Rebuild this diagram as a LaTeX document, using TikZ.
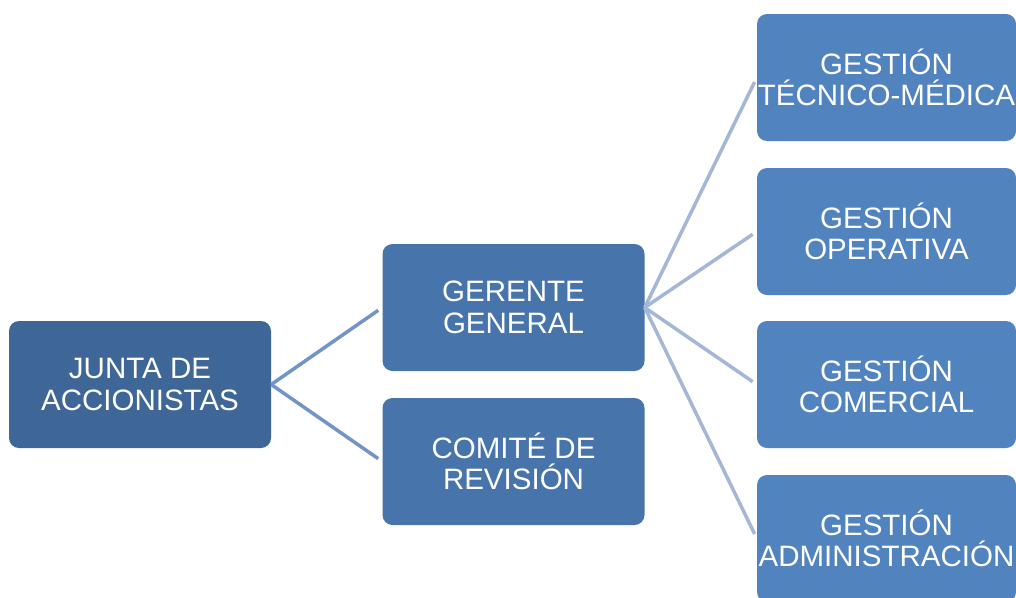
\documentclass[tikz,border=0pt]{standalone}
\usepackage{fontspec}
\setmainfont{Liberation Sans}
\definecolor{juntablue}{RGB}{62,102,150}
\definecolor{midblue}{RGB}{71,116,170}
\definecolor{gestblue}{RGB}{81,131,191}
\definecolor{linkone}{RGB}{114,148,198}
\definecolor{linktwo}{RGB}{165,183,215}
\tikzset{
  orgbox/.style={rectangle, rounded corners=10pt, inner sep=0pt, align=center,
    text=white, font=\fontsize{29.5}{31.5}\selectfont},
  link/.style={line width=3.5pt, shorten >=5pt}
}
\begin{document}
\begin{tikzpicture}[x=1pt, y=-1pt]
\useasboundingbox (0,0) rectangle (1016,597);
%first level

\node [orgbox, fill=juntablue, minimum width=262pt, minimum height=127pt] (junta) at (140,384.5) {JUNTA DE\\ACCIONISTAS};

%second level

\node [orgbox, fill=midblue, minimum width=262pt, minimum height=127pt] (gerente) at (513.5,307.5) {GERENTE\\GENERAL};
\node [orgbox, fill=midblue, minimum width=262pt, minimum height=127pt] (comite) at (513.5,461.5) {COMITÉ DE\\REVISIÓN};

%third level

\node [orgbox, fill=gestblue, minimum width=259pt, minimum height=127pt] (tecnica) at (886.5,77.5) {GESTIÓN\\TÉCNICO-MÉDICA};
\node [orgbox, fill=gestblue, minimum width=259pt, minimum height=127pt] (operativa) at (886.5,231.5) {GESTIÓN\\OPERATIVA};
\node [orgbox, fill=gestblue, minimum width=259pt, minimum height=127pt] (comercial) at (886.5,384.5) {GESTIÓN\\COMERCIAL};
\node [orgbox, fill=gestblue, minimum width=259pt, minimum height=127pt] (admin) at (886.5,538.5) {GESTIÓN\\ADMINISTRACIÓN};

%connectors

\draw [link, linkone] (junta.east) -- (gerente.west);
\draw [link, linkone] (junta.east) -- (comite.west);
\draw [link, linktwo] (gerente.east) -- (tecnica.west);
\draw [link, linktwo] (gerente.east) -- (operativa.west);
\draw [link, linktwo] (gerente.east) -- (comercial.west);
\draw [link, linktwo] (gerente.east) -- (admin.west);
\end{tikzpicture}
\end{document}
